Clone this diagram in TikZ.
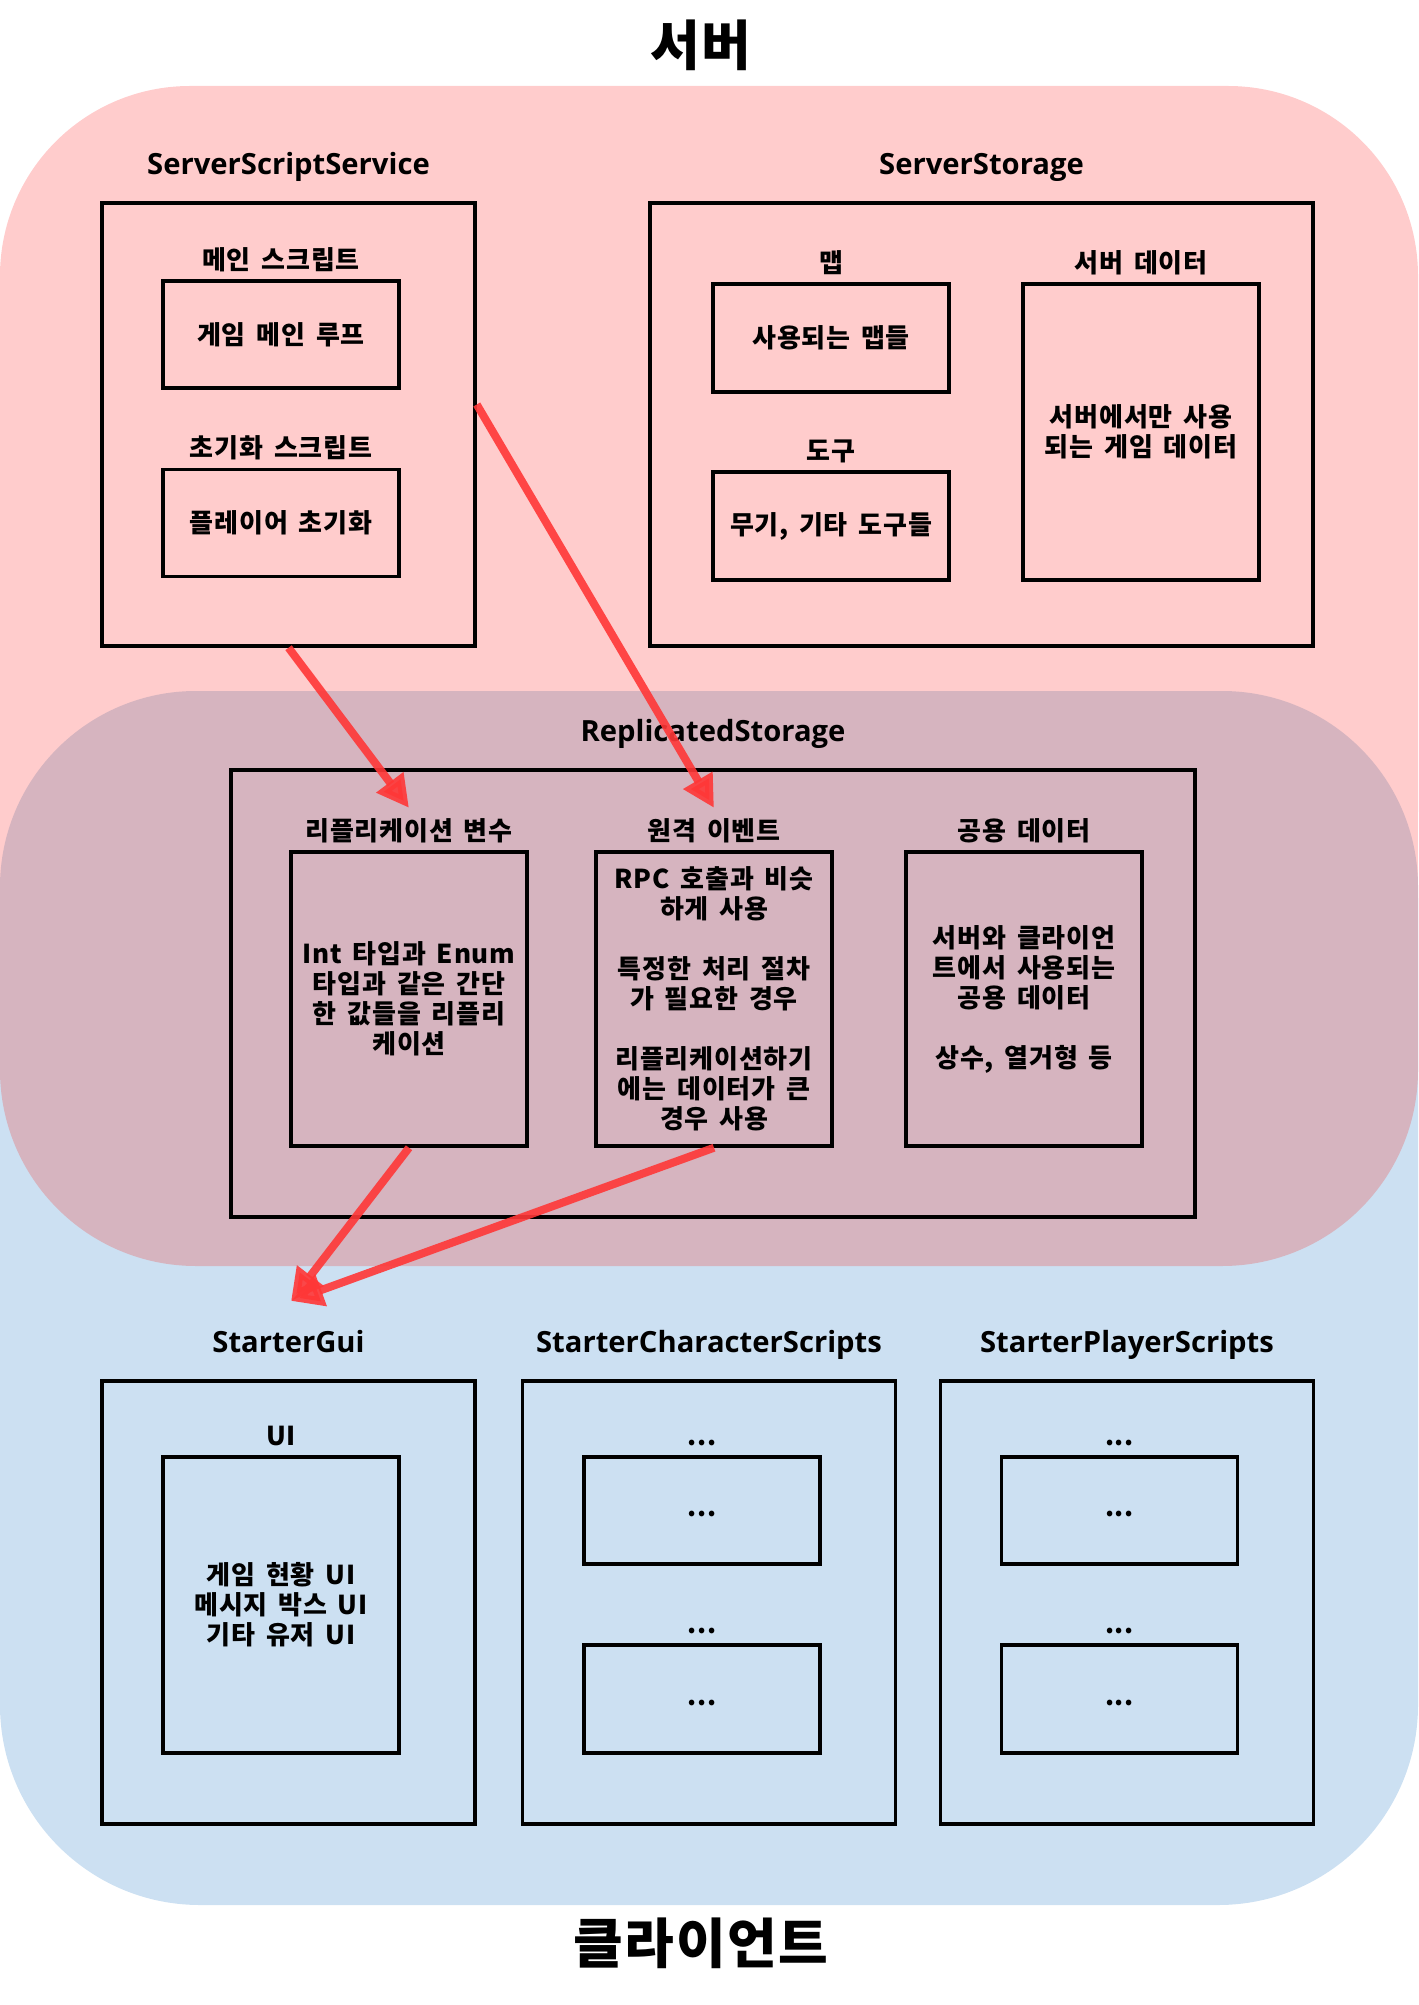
\documentclass[tikz,border=0pt]{standalone}
\usepackage{fontspec}
\setmainfont{Noto Sans CJK KR}[LetterSpace=3, WordSpace=1.6]
\newfontfamily\latinfont{Open Sans}
\usetikzlibrary{positioning,arrows.meta}

\definecolor{serverpink}{RGB}{255,204,204}
\definecolor{sharedmauve}{RGB}{214,180,191}
\definecolor{clientblue}{RGB}{204,224,242}
\definecolor{arrowred}{RGB}{255,55,55}

\tikzset{
	outbox/.style={draw, line width=1.75pt, minimum width=186.5pt, minimum height=221.5pt, inner sep=0pt},
	inbox/.style={draw, line width=1.75pt, minimum width=118pt, minimum height=53.5pt, inner sep=0pt, align=center, font=\bfseries\fontsize{13}{15}\selectfont},
	tallbox/.style={inbox, minimum height=148pt},
	title/.style={font=\bfseries\fontsize{27}{30}\selectfont, inner sep=0pt},
	head/.style={font=\latinfont\bfseries\fontsize{14.6}{17}\selectfont, inner sep=0pt},
	sublabel/.style={font=\bfseries\fontsize{13}{15}\selectfont, inner sep=0pt},
	flow/.style={draw=arrowred, line width=4pt, opacity=0.9, -{Triangle[length=16pt,width=16pt]}},
}

\begin{document}
\begin{tikzpicture}[x=0.5pt, y=-0.5pt]
			%%%%% START %%%%%
			\useasboundingbox (0,0) rectangle (1418,2005);
			
			\fill[clientblue, rounded corners=100pt] (0,700) rectangle (1418,1905);
			\fill[serverpink, rounded corners=95pt] (0,86) rectangle (1418,1000);
			\fill[serverpink] (0,800) rectangle (1418,1000);
			\fill[sharedmauve, rounded corners=98pt] (0,691) rectangle (1418,1266);
			
			\node[title] (srvtitle) at (701,45) {서버};
			\node[title] (clttitle) at (701,1943) {클라이언트};
			
			% server
			\node[outbox] (sss) at (288.5,424.5) {};
			\node[head, above=13.5pt of sss, anchor=base] (ssslbl) {ServerScriptService};
			\node[inbox] (mainloop) at (281,334.5) {게임 메인 루프};
			\node[sublabel, above=5pt of mainloop, anchor=base] (mainlbl) {메인 스크립트};
			\node[inbox] (playerinit) at (281,523) {플레이어 초기화};
			\node[sublabel, above=5pt of playerinit, anchor=base] (initlbl) {초기화 스크립트};
			
			\node[outbox, minimum width=331.5pt] (sstore) at (981.5,424.5) {};
			\node[head, above=13.5pt of sstore, anchor=base] (sstorelbl) {ServerStorage};
			\node[inbox, minimum height=54pt] (maps) at (831,338) {사용되는 맵들};
			\node[sublabel, above=5pt of maps, anchor=base] (mapslbl) {맵};
			\node[inbox, minimum height=54pt] (tools) at (831,526) {무기, 기타 도구들};
			\node[sublabel, above=5pt of tools, anchor=base] (toolslbl) {도구};
			\node[tallbox] (srvdata) at (1141,432) {서버에서만 사용\\되는 게임 데이터};
			\node[sublabel, above=5pt of srvdata, anchor=base] (srvdatalbl) {서버 데이터};
			
			% replicated
			\node[outbox, minimum width=482pt, minimum height=223.5pt] (rstore) at (713,993.5) {};
			\node[head, above=13.5pt of rstore, anchor=base] (rstorelbl) {ReplicatedStorage};
			\node[tallbox, minimum height=147pt] (repvar) at (409,999) {Int 타입과 Enum\\타입과 같은 간단\\한 값들을 리플리\\케이션};
			\node[sublabel, above=5pt of repvar, anchor=base] (repvarlbl) {리플리케이션 변수};
			\node[tallbox, minimum height=147pt] (remote) at (714,999) {RPC 호출과 비슷\\하게 사용\\[15pt]특정한 처리 절차\\가 필요한 경우\\[15pt]리플리케이션하기\\에는 데이터가 큰\\경우 사용};
			\node[sublabel, above=5pt of remote, anchor=base] (remotelbl) {원격 이벤트};
			\node[tallbox, minimum height=147pt] (shared) at (1024,999) {서버와 클라이언\\트에서 사용되는\\공용 데이터\\[15pt]상수, 열거형 등};
			\node[sublabel, above=5pt of shared, anchor=base] (sharedlbl) {공용 데이터};
			
			% client
			\node[outbox] (gui) at (288.5,1602.5) {};
			\node[head, above=13.5pt of gui, anchor=base] (guilbl) {StarterGui};
			\node[tallbox] (uibox) at (281,1605) {게임 현황 UI\\메시지 박스 UI\\기타 유저 UI};
			\node[sublabel, above=5pt of uibox, anchor=base] (uilbl) {UI};
			
			\node[outbox] (charscr) at (709,1602.5) {};
			\node[head, above=13.5pt of charscr, anchor=base] (charscrlbl) {StarterCharacterScripts};
			\node[inbox] (char1) at (702,1510.5) {\strut...};
			\node[sublabel, above=5pt of char1, anchor=base] (char1lbl) {...};
			\node[inbox, minimum height=54pt] (char2) at (702,1699) {\strut...};
			\node[sublabel, above=5pt of char2, anchor=base] (char2lbl) {...};
			
			\node[outbox] (plrscr) at (1127,1602.5) {};
			\node[head, above=13.5pt of plrscr, anchor=base] (plrscrlbl) {StarterPlayerScripts};
			\node[inbox] (plr1) at (1119.5,1510.5) {\strut...};
			\node[sublabel, above=5pt of plr1, anchor=base] (plr1lbl) {...};
			\node[inbox, minimum height=54pt] (plr2) at (1119.5,1699) {\strut...};
			\node[sublabel, above=5pt of plr2, anchor=base] (plr2lbl) {...};
			
			% arrows
			\coordinate (guitip) at (291,1301);
			\draw[flow] (sss.south) -- ([yshift=5pt]repvarlbl.north);
			\draw[flow] ([yshift=10pt]sss.east) -- ([yshift=5pt]remotelbl.north);
			\draw[flow] (repvar.south) -- (guitip);
			\draw[flow] (remote.south) -- (guitip);
			
			%%%%% END %%%%%
\end{tikzpicture}
\end{document}
